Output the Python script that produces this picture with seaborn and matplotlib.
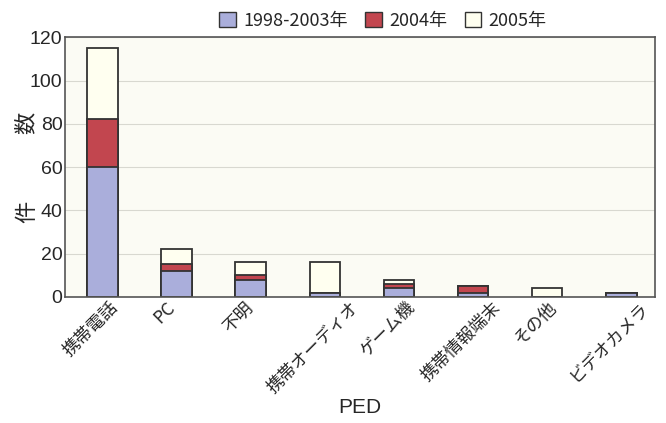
import matplotlib
matplotlib.use("Agg")
import matplotlib.pyplot as plt
import matplotlib.transforms as mtransforms
import seaborn as sns
import pandas as pd
import numpy as np
from matplotlib.patches import Patch

sns.set_theme(style="white")
plt.rcParams['font.family'] = ['Noto Sans CJK JP', 'DejaVu Sans']

categories = ["携帯電話", "PC", "不明", "携帯オーディオ", "ゲーム機", "携帯情報端末", "その他", "ビデオカメラ"]
v_1998_2003 = [60, 12, 8, 2, 4, 2, 0, 2]
v_2004 = [22, 3, 2, 0, 2, 3, 0, 0]
v_2005 = [33, 7, 6, 14, 2, 0, 4, 0]
series_labels = ["1998-2003年", "2004年", "2005年"]
colors = ["#aaaedb", "#c2464f", "#fffff0"]

df = pd.DataFrame({"cat": categories,
                   "a": v_1998_2003, "b": v_2004, "c": v_2005})
df["ab"] = df["a"] + df["b"]
df["abc"] = df["ab"] + df["c"]

fig, ax = plt.subplots(figsize=(6.66, 4.23), dpi=100)
fig.subplots_adjust(left=0.098, right=0.983, top=0.912, bottom=0.298)
ax.set_facecolor("#fbfbf4")

for col, c in zip(["abc", "ab", "a"], [colors[2], colors[1], colors[0]]):
    sns.barplot(data=df, x="cat", y=col, color=c, width=0.41,
                edgecolor="#333333", linewidth=1.3, ax=ax, saturation=1)

ax.set_ylim(0, 120)
ax.set_yticks(range(0, 121, 20))
ax.yaxis.grid(True, color="#d8d8d0", linewidth=0.8)
ax.set_axisbelow(True)
ax.set_xlim(-0.5, 7.45)
ax.set_ylabel("件　　　数", fontsize=16)
ax.yaxis.set_label_coords(-0.045, 0.5)
ax.set_xlabel("PED", fontsize=15, family=["Liberation Sans", "DejaVu Sans"])
ax.xaxis.set_label_coords(0.5, -0.39)
ax.tick_params(axis="y", labelsize=14, length=0, pad=2)
ax.tick_params(axis="x", labelsize=12.5, length=0, pad=1)
for t in ax.get_yticklabels():
    t.set_family(["Liberation Sans", "DejaVu Sans"])
offset = mtransforms.ScaledTranslation(-12 / 100, 0, fig.dpi_scale_trans)
for t in ax.get_xticklabels():
    t.set_rotation(45)
    t.set_ha("center")
    t.set_va("top")
    t.set_transform(t.get_transform() + offset)
for s in ax.spines.values():
    s.set_color("#555555")
    s.set_linewidth(1.2)

handles = [Patch(facecolor=c, edgecolor="#333333", label=l) for c, l in zip(colors, series_labels)]
fig.legend(handles=handles, loc="upper center", bbox_to_anchor=(0.575, 1.01), ncol=3,
           frameon=False, fontsize=13, handlelength=0.9, handleheight=0.9,
           handletextpad=0.4, columnspacing=1.0)

fig.savefig("out.png", dpi=100)
